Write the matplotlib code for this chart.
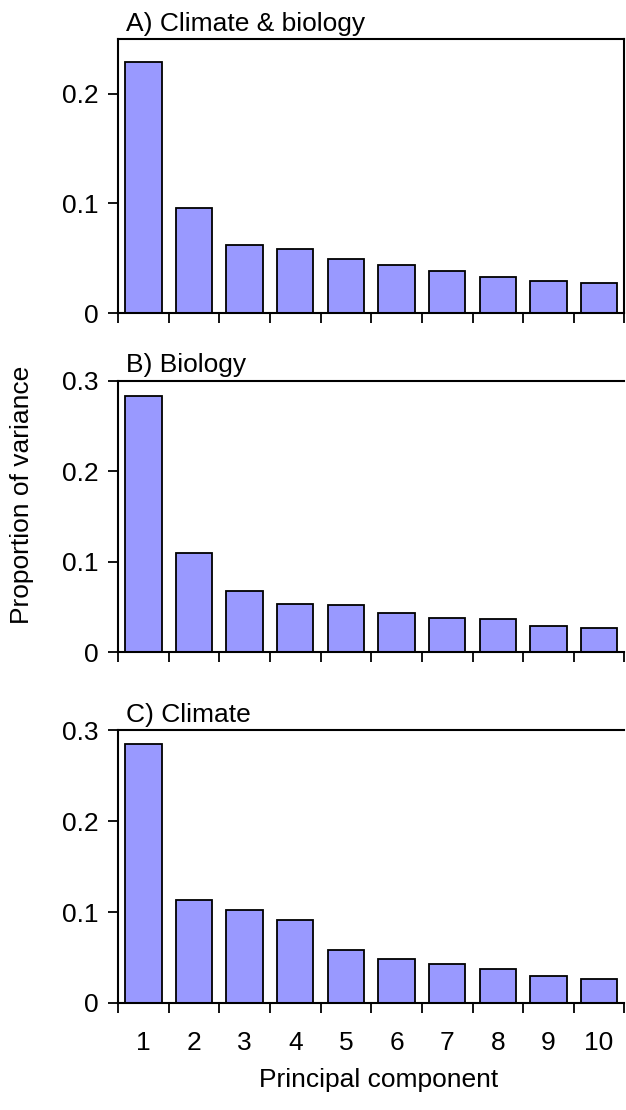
import matplotlib
matplotlib.use("Agg")
import matplotlib.pyplot as plt
import numpy as np

# -------------------------
# Data
# -------------------------
components = list(range(1, 11))
tick_labels = [str(c) for c in components]

climate_biology = [0.229, 0.096, 0.062, 0.058, 0.049, 0.044, 0.038, 0.033, 0.029, 0.027]
biology = [0.283, 0.109, 0.067, 0.053, 0.052, 0.043, 0.038, 0.036, 0.029, 0.027]
climate = [0.285, 0.113, 0.102, 0.091, 0.058, 0.048, 0.043, 0.037, 0.030, 0.026]

panel_titles = ["A) Climate & biology", "B) Biology", "C) Climate"]
panel_ylims = [0.25, 0.3, 0.3]
panel_yticks = [[0, 0.1, 0.2], [0, 0.1, 0.2, 0.3], [0, 0.1, 0.2, 0.3]]

# -------------------------
# Style
# -------------------------
plt.rcParams["font.family"] = ["Liberation Sans", "DejaVu Sans"]
plt.rcParams["font.size"] = 19
BAR_COLOR = "#9999ff"

fig = plt.figure(figsize=(6.26, 11.1), dpi=100)

# [left, bottom, width, height] in figure fractions
boxes = [
    [0.1885, 0.718, 0.809, 0.247],
    [0.1885, 0.4126, 0.809, 0.2444],
    [0.1885, 0.0964, 0.809, 0.2459],
]

series = [climate_biology, biology, climate]

for i, (vals, title, ymax, yt, box) in enumerate(zip(series, panel_titles, panel_ylims, panel_yticks, boxes)):
    ax = fig.add_axes(box)
    ax.bar(components, vals, width=0.72, color=BAR_COLOR, edgecolor="black", linewidth=1.3)
    ax.set_xlim(0.5, 10.5)
    ax.set_ylim(0, ymax)
    ax.set_yticks(yt)
    ax.set_yticklabels([("0" if v == 0 else f"{v:.1f}") for v in yt])

    # category boundaries as major ticks, labels at centres as minor ticks
    ax.set_xticks(np.arange(0.5, 11, 1.0))
    ax.set_xticklabels([])
    ax.set_xticks(components, minor=True)
    if i == 2:
        ax.set_xticklabels(tick_labels, minor=True)
    ax.tick_params(axis="x", which="major", direction="out", length=7, width=1.3)
    ax.tick_params(axis="x", which="minor", length=0, pad=20)
    ax.tick_params(axis="y", direction="out", length=7, width=1.3, pad=7)

    for side in ["left", "bottom", "top", "right"]:
        ax.spines[side].set_linewidth(1.5)
    if i > 0:
        ax.spines["right"].set_visible(False)

    ax.text(0.015, 1.012, title, transform=ax.transAxes, ha="left", va="bottom", fontsize=19)

fig.text(0.035, 0.554, "Proportion of variance", rotation=90, ha="center", va="center", fontsize=19)
fig.text(0.605, 0.027, "Principal component", ha="center", va="center", fontsize=19)

fig.savefig("out.png", dpi=100)
